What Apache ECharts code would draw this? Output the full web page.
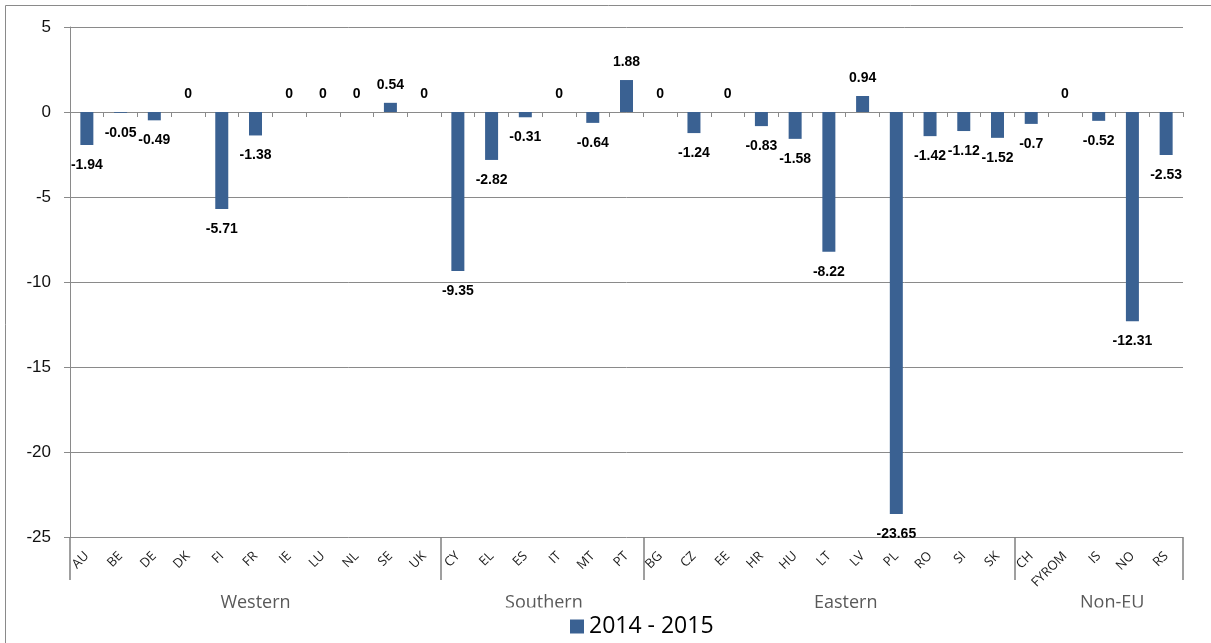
<!DOCTYPE html>
<html>
<head>
<meta charset="utf-8">
<script src="https://cdn.jsdelivr.net/npm/echarts@6/dist/echarts.min.js"></script>
<style>
  html, body { margin: 0; padding: 0; background: #fff; }
  #chart { width: 1211px; height: 643px; }
</style>
</head>
<body>
<div id="chart"></div>
<script>
// Country codes along the category axis, grouped by region
const countries = ['AU', 'BE', 'DE', 'DK', 'FI', 'FR', 'IE', 'LU', 'NL', 'SE', 'UK',
                   'CY', 'EL', 'ES', 'IT', 'MT', 'PT',
                   'BG', 'CZ', 'EE', 'HR', 'HU', 'LT', 'LV', 'PL', 'RO', 'SI', 'SK',
                   'CH', 'FYROM', 'IS', 'NO', 'RS'];
// Change between 2014 and 2015
const change = [-1.94, -0.05, -0.49, 0, -5.71, -1.38, 0, 0, 0, 0.54, 0,
                -9.35, -2.82, -0.31, 0, -0.64, 1.88,
                0, -1.24, 0, -0.83, -1.58, -8.22, 0.94, -23.65, -1.42, -1.12, -1.52,
                -0.7, 0, -0.52, -12.31, -2.53];
const regions = ['Western', 'Southern', 'Eastern', 'Non-EU'];
const regionSizes = [11, 6, 11, 5];
const seriesName = '2014 - 2015';
const yMin = -25, yMax = 5, yStep = 5;

// Layout: where each region name sits, in category widths from the left edge
const regionLabelAt = [5.5, 14.05, 23, 30.9];
// Region names whose lower edge is cut off by the frame below them
const clippedRegions = [1, 3];

const LINE = '#8a8a8a';
const BAR = '#3a6192';

const regionStarts = [];
let acc = 0;
regionSizes.forEach(n => { regionStarts.push(acc); acc += n; });

const barData = change.map(v => ({
  value: v,
  label: { position: v < 0 ? 'bottom' : 'top', distance: v < 0 ? 13 : 11 }
}));

const chart = echarts.init(document.getElementById('chart'));

chart.setOption({
  animation: false,
  grid: { left: 70, right: 28, top: 27, bottom: 106 },
  legend: {
    left: 565, top: 610,
    icon: 'rect', itemWidth: 14, itemHeight: 14, itemGap: 10,
    textStyle: { fontSize: 23, color: '#000', fontFamily: 'Open Sans' },
    data: [seriesName]
  },
  xAxis: [
    {
      // country labels and the region separators under the plot
      type: 'category', data: countries, position: 'bottom',
      axisLine: { show: false, onZero: false },
      axisTick: {
        show: true, length: 43,
        interval: i => regionStarts.indexOf(i) >= 0,
        lineStyle: { color: '#808080', width: 1.5 }
      },
      axisLabel: { interval: 0, rotate: 45, margin: 17, fontSize: 13, color: '#1a1a1a', fontFamily: 'Open Sans' }
    },
    {
      // baseline at zero with a tick between each country
      type: 'category', data: countries, position: 'bottom',
      axisLine: { show: true, onZero: true, lineStyle: { color: LINE } },
      axisTick: { show: true, length: 5, interval: 0, lineStyle: { color: LINE } },
      axisLabel: { show: false }
    }
  ],
  yAxis: {
    type: 'value', min: yMin, max: yMax, interval: yStep,
    axisLine: { show: true, lineStyle: { color: LINE } },
    axisTick: { show: true, length: 6, lineStyle: { color: LINE } },
    axisLabel: { margin: 19, fontSize: 17, color: '#111', fontFamily: 'Liberation Sans' },
    splitLine: { show: true, lineStyle: { color: LINE } }
  },
  series: [{
    type: 'bar', name: seriesName, xAxisIndex: 0, data: barData,
    barWidth: 13,
    itemStyle: { color: BAR },
    label: { show: true, fontSize: 14, fontWeight: 'bold', color: '#000', fontFamily: 'Liberation Sans' }
  }],
  graphic: [{
    id: 'frame', type: 'rect', silent: true, z: -10,
    shape: { x: 5.5, y: 5.5, width: 1400, height: 800 },
    style: { fill: null, stroke: LINE, lineWidth: 1 }
  }]
});

// Region names under the country labels, placed through the category scale
const c0 = chart.convertToPixel({ xAxisIndex: 0 }, 0);
const c1 = chart.convertToPixel({ xAxisIndex: 0 }, 1);
const band = c1 - c0;
const axisLeft = c0 - band / 2;

const regionGraphics = [];
regions.forEach((name, i) => {
  const cx = axisLeft + regionLabelAt[i] * band;
  regionGraphics.push({
    id: 'region' + i, type: 'text', silent: true, z: 10,
    x: cx, y: 603,
    style: { text: name, fill: '#595959', font: '18px "Open Sans"', align: 'center', verticalAlign: 'middle' }
  });
  if (clippedRegions.indexOf(i) >= 0) {
    regionGraphics.push({
      id: 'regionCut' + i, type: 'rect', silent: true, z: 11,
      shape: { x: cx - 45, y: 607.5, width: 90, height: 4 },
      style: { fill: '#fff' }
    });
  }
});

chart.setOption({ graphic: regionGraphics });
</script>
</body>
</html>
